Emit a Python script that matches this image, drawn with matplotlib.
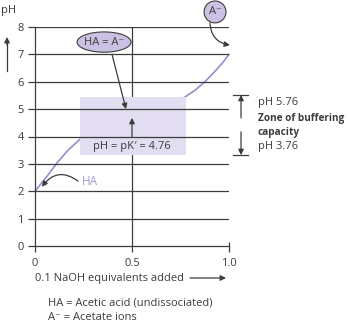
import matplotlib
matplotlib.use("Agg")
import matplotlib.pyplot as plt
from matplotlib.patches import Ellipse, Rectangle

plt.rcParams["font.family"] = ["Open Sans", "DejaVu Sans"]

# ---- Data ------------------------------------------------------------------
# titration curve of acetic acid with NaOH
naoh_eq = [0.0, 0.057, 0.113, 0.17, 0.232, 0.35, 0.5, 0.65, 0.773, 0.825, 0.876, 0.933, 0.97, 1.0]
ph_vals = [2.0, 2.5, 3.03, 3.5, 3.9, 4.42, 4.76, 5.08, 5.44, 5.69, 6.0, 6.42, 6.72, 7.0]

ph_ticks = [0, 1, 2, 3, 4, 5, 6, 7, 8]
x_ticks = [0, 0.5, 1.0]
x_ticklabels = ["0", "0.5", "1.0"]

pka = 4.76
buffer_lo, buffer_hi = 3.76, 5.76

INK = "#3c3c3c"
PURPLE = "#9c8ad0"
LAVENDER = "#e2ddf0"
OVAL = "#cbc1e3"

W, H = 349, 322
fig = plt.figure(figsize=(W / 100, H / 100), dpi=100, facecolor="white")
ax = fig.add_axes([35 / W, 76 / H, 194 / W, 219 / H])
ax.set_xlim(0, 1)
ax.set_ylim(0, 8)
ax.set_facecolor("none")

for s in ["top", "right"]:
    ax.spines[s].set_visible(False)
for s in ["left", "bottom"]:
    ax.spines[s].set_color(INK)
    ax.spines[s].set_linewidth(0.9)

ax.set_yticks(ph_ticks)
ax.set_xticks(x_ticks)
ax.set_xticklabels(x_ticklabels)
ax.tick_params(axis="y", length=5, width=0.9, color=INK, pad=3, labelsize=8, labelcolor=INK)
ax.tick_params(axis="x", length=4, width=0.9, color=INK, pad=5, labelsize=8, labelcolor=INK)

# horizontal grid drawn above the buffer box, midpoint line below it
ax.hlines(ph_ticks[1:], 0, 1, color=INK, lw=0.9, zorder=3)
ax.vlines(0.5, 0, 8, color=INK, lw=0.9, zorder=1)
ax.vlines(1.0, 0, 0.15, color=INK, lw=0.9, zorder=3, clip_on=False)

ax.plot(naoh_eq, ph_vals, color=PURPLE, lw=1.2, zorder=1.5, clip_on=False)

# zone of buffering box
ax.add_patch(Rectangle((0.232, 3.32), 0.546, 2.12, facecolor=LAVENDER,
                       edgecolor="none", zorder=2))
ax.text(0.5, 3.65, f"pH = pK\u2032 = {pka:.2f}", ha="center", va="center",
        fontsize=8, color=INK, zorder=4)
ax.annotate("", xy=(0.5, 4.68), xytext=(0.5, 3.98),
            arrowprops=dict(arrowstyle="-|>", color=INK, lw=0.9,
                            mutation_scale=8, shrinkA=0, shrinkB=0), zorder=4)

# HA = A- oval
ax.add_patch(Ellipse((0.356, 7.45), 0.278, 0.74, facecolor=OVAL,
                     edgecolor=INK, lw=0.8, zorder=4))
ax.text(0.356, 7.45, "HA = A\u207b", ha="center", va="center",
        fontsize=8, color=INK, zorder=5)
ax.annotate("", xy=(0.469, 5.0), xytext=(0.397, 7.0),
            arrowprops=dict(arrowstyle="-|>", color=INK, lw=0.9,
                            mutation_scale=8, shrinkA=0, shrinkB=0), zorder=4)

# A- circle
ax.add_patch(Ellipse((0.928, 8.55), 0.113, 0.80, facecolor=OVAL,
                     edgecolor=INK, lw=0.8, zorder=4, clip_on=False))
ax.text(0.928, 8.55, "A\u207b", ha="center", va="center",
        fontsize=8, color=INK, zorder=5)
ax.annotate("", xy=(1.005, 7.34), xytext=(0.902, 8.15),
            arrowprops=dict(arrowstyle="-|>", color=INK, lw=0.9, mutation_scale=8,
                            shrinkA=0, shrinkB=0, connectionstyle="arc3,rad=0.4"),
            annotation_clip=False, zorder=4)

# HA label on the curve
ax.text(0.242, 2.34, "HA", ha="left", va="center", fontsize=8.5, color="#a596d8")
ax.annotate("", xy=(0.036, 2.16), xytext=(0.222, 2.37),
            arrowprops=dict(arrowstyle="-|>", color=INK, lw=0.9, mutation_scale=8,
                            shrinkA=0, shrinkB=0, connectionstyle="arc3,rad=0.5"),
            zorder=4)

# buffering range bracket on the right
bx = 1.062
for yv in (5.52, 3.32):
    ax.plot([1.021, 1.098], [yv, yv], color=INK, lw=0.9, clip_on=False)
ax.annotate("", xy=(bx, 5.52), xytext=(bx, 4.68),
            arrowprops=dict(arrowstyle="-|>", color=INK, lw=0.9,
                            mutation_scale=8, shrinkA=0, shrinkB=0),
            annotation_clip=False)
ax.annotate("", xy=(bx, 3.32), xytext=(bx, 4.17),
            arrowprops=dict(arrowstyle="-|>", color=INK, lw=0.9,
                            mutation_scale=8, shrinkA=0, shrinkB=0),
            annotation_clip=False)
tx = 1.149
ax.text(tx, 5.25, f"pH {buffer_hi:.2f}", fontsize=8, color=INK, va="center", clip_on=False)
ax.text(tx, 4.67, "Zone of buffering", fontsize=7.2, color=INK, va="center",
        fontweight="bold", clip_on=False)
ax.text(tx, 4.16, "capacity", fontsize=7.2, color=INK, va="center",
        fontweight="bold", clip_on=False)
ax.text(tx, 3.65, f"pH {buffer_lo:.2f}", fontsize=8, color=INK, va="center", clip_on=False)

# axis titles with arrows
fig.text(1 / W, 1 - 11 / H, "pH", fontsize=8, color=INK, va="center", ha="left")
fig.add_artist(plt.Line2D([7 / W, 7 / W], [1 - 71 / H, 1 - 42 / H], color=INK, lw=0.9))
ax.annotate("", xy=(7 / W, 1 - 37 / H), xytext=(7 / W, 1 - 45 / H),
            xycoords="figure fraction", textcoords="figure fraction",
            arrowprops=dict(arrowstyle="-|>", color=INK, lw=0.9,
                            mutation_scale=8, shrinkA=0, shrinkB=0))

fig.text(35 / W, 1 - 278 / H, "0.1 NaOH equivalents added", fontsize=8,
         color=INK, va="center", ha="left")
ax.annotate("", xy=(226 / W, 1 - 278 / H), xytext=(190 / W, 1 - 278 / H),
            xycoords="figure fraction", textcoords="figure fraction",
            arrowprops=dict(arrowstyle="-|>", color=INK, lw=0.9,
                            mutation_scale=8, shrinkA=0, shrinkB=0))

fig.text(48 / W, 1 - 303 / H, "HA = Acetic acid (undissociated)", fontsize=8,
         color=INK, va="center", ha="left")
fig.text(48 / W, 1 - 317 / H, "A\u207b = Acetate ions", fontsize=8,
         color=INK, va="center", ha="left")

fig.savefig("out.png", dpi=100, facecolor="white")
